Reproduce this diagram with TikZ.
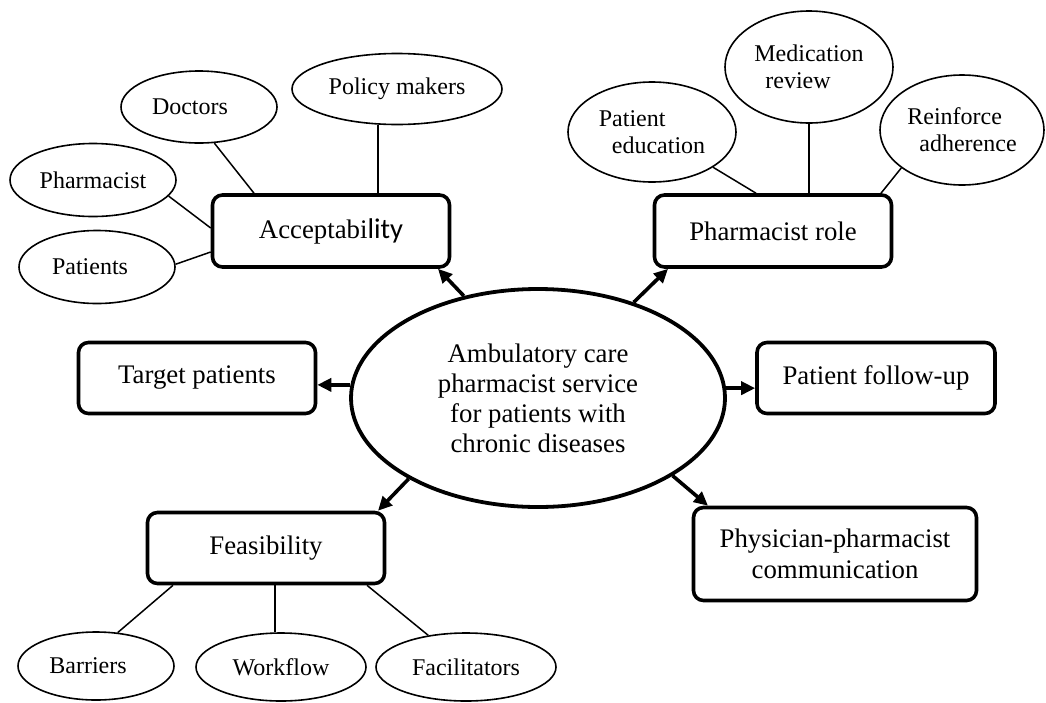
\documentclass[tikz,border=0pt]{standalone}
\usepackage{fontspec}
\setmainfont{Liberation Serif}
\newfontfamily\calibfont{Carlito}
\usetikzlibrary{shapes.geometric,arrows.meta}
\begin{document}
\begin{tikzpicture}[x=1pt,y=-1pt,
  topic/.style={draw, line width=3.6pt, rounded corners=10pt, minimum width=237pt,
    minimum height=72pt, inner sep=0pt, font=\fontsize{26.8}{31}\selectfont, align=center},
  item/.style={draw, ellipse, line width=1.6pt, inner sep=0pt,
    font=\fontsize{24}{27}\selectfont},
  hub/.style={draw, ellipse, line width=3.8pt, inner sep=0pt, minimum width=374pt,
    minimum height=218pt, font=\fontsize{26.8}{30}\selectfont, align=center},
  link/.style={line width=1.5pt},
  feed/.style={line width=3.6pt, -{Triangle[length=14pt,width=13pt]}}]
\useasboundingbox (0,0) rectangle (1046,702);

% central service
\node[hub] (hub) at (538,398) {Ambulatory care\\pharmacist service\\for patients with\\chronic diseases};

% themes
\node[topic] (acc) at (331,231) {Acceptabi{\calibfont\fontsize{28.5}{31}\selectfont lity}};
\node[topic] (prole) at (773,231) {Pharmacist role};
\node[topic, minimum height=71pt] (tp) at (197,378) {Target patients};
\node[topic, minimum width=238pt, minimum height=71pt] (fu) at (876,378) {Patient follow-up};
\node[topic, minimum height=71pt] (feas) at (266,548) {Feasibility};
\node[topic, minimum width=283pt, minimum height=93pt] (phys) at (835,554) {Physician-pharmacist\\communication};

% acceptability sub-themes
\node[item, minimum width=156pt, minimum height=72pt] (doc) at (199,107) {Doctors\hspace*{18pt}};
\node[item, minimum width=210pt, minimum height=71pt] (pol) at (397,89) {Policy makers};
\node[item, minimum width=166pt, minimum height=73pt] (phm) at (93,180) {Pharmacist};
\node[item, minimum width=156pt, minimum height=73pt] (pat) at (97,267) {Patients\hspace*{14pt}};

% pharmacist role sub-themes
\node[item, minimum width=168pt, minimum height=100pt, align=left] (ped) at (652,132) {Patient\\\hspace*{13pt}education};
\node[item, minimum width=168pt, minimum height=112pt, align=left] (med) at (809,67) {Medication\\\hspace*{11pt}review};
\node[item, minimum width=164pt, minimum height=110pt, align=left] (rei) at (962,130) {Reinforce\\\hspace*{12pt}adherence};

% feasibility sub-themes
\node[item, minimum width=156pt, minimum height=68pt] (bar) at (96,666) {Barriers\hspace*{16pt}};
\node[item, minimum width=170pt, minimum height=68pt] (wf) at (281,667) {Workflow};
\node[item, minimum width=180pt, minimum height=68pt] (fac) at (466,667) {Facilitators};

% links to sub-themes
\draw[link] (doc.-67) -- ([xshift=-77pt]acc.north);
\draw[link] (pol.-118.5) -- (pol.-118.5 |- acc.north);
\draw[link] (phm.-12.9) -- ([yshift=3pt]acc.west);
\draw[link] (pat.2) -- ([yshift=-21pt]acc.west);

\draw[link] (ped.-30.7) -- ([xshift=-17pt]prole.north);
\draw[link] (med.south) -- (med.south |- prole.north);
\draw[link] (rei.-148.4) -- ([xshift=108pt]prole.north);

\draw[link] ([xshift=-93pt]feas.south) -- (bar.57);
\draw[link] ([xshift=9pt]feas.south) coordinate (wfs) -- (wfs |- wf.north);
\draw[link] ([xshift=101pt]feas.south) -- (fac.140.9);

% arrows from the service to each theme
\draw[feed] (hub.126.8) -- ([xshift=107pt]acc.south);
\draw[feed] (hub.45.9) -- ([xshift=-105pt]prole.south);
\draw[feed] (hub.176.3) -- (hub.176.3 -| tp.east);
\draw[feed] (hub.3.7) -- (hub.3.7 -| fu.west);
\draw[feed] (hub.-148.7) -- ([xshift=112pt]feas.north);
\draw[feed] (hub.-30) -- ([xshift=-127pt]phys.north);
\end{tikzpicture}
\end{document}
